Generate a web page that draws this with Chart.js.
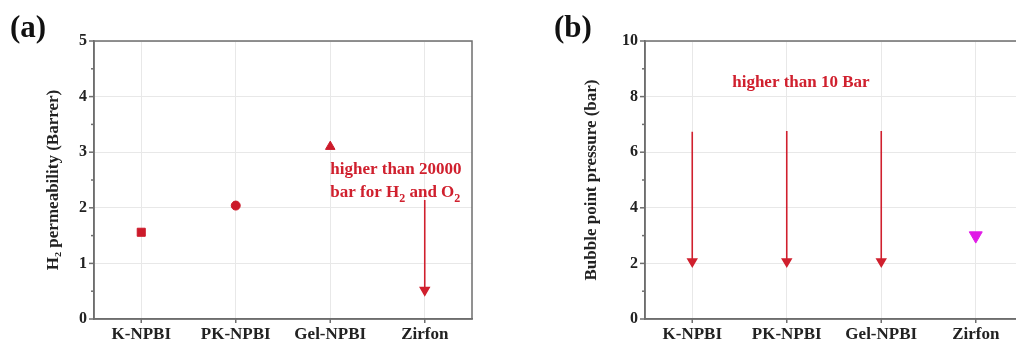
<!DOCTYPE html>
<html>
<head>
<meta charset="utf-8">
<script src="https://cdn.jsdelivr.net/npm/chart.js@4.4.1/dist/chart.umd.min.js"></script>
<style>
  html, body { margin: 0; padding: 0; background: #fff; overflow: hidden; }
  #wrap { position: relative; width: 1016px; height: 345px; overflow: hidden; }
  .panel { position: absolute; top: 0; height: 345px; }
  #pa { left: 0; width: 500px; }
  #pb { left: 520px; width: 520px; }
</style>
</head>
<body>
<div id="wrap">
  <div class="panel" id="pa"><canvas id="chartA"></canvas></div>
  <div class="panel" id="pb"><canvas id="chartB"></canvas></div>
</div>
<script>
// Data
const categories = ['K-NPBI', 'PK-NPBI', 'Gel-NPBI', 'Zirfon'];
const h2Permeability = [1.56, 2.04, 3.10];          // K, PK, Gel
const h2MarkerStyles = ['rect', 'circle', 'triangle'];
const zirfonH2Arrow = [2.14, 0.52];                // start, head (Zirfon, off scale)
const bubbleArrowTop = [6.74, 6.76, 6.76];         // K, PK, Gel (> 10 bar)
const bubbleArrowHead = [2.07, 2.07, 2.07];
const zirfonBubble = 3.0;
const yTicksA = [0, 1, 2, 3, 4, 5];
const yTicksB = [0, 2, 4, 6, 8, 10];

const SERIF = '"Liberation Serif", "Times New Roman", serif';
const RED = '#d0202e';
const FRAME = '#6e6e6e';

// Frame box + outward tick marks (major and minor)
const framePlugin = {
    id: 'frame',
    afterDraw(chart, args, opts) {
        const { ctx, chartArea: a, scales } = chart;
        ctx.save();
        ctx.strokeStyle = FRAME;
        ctx.lineWidth = 1.5;
        ctx.strokeRect(a.left, a.top, a.right - a.left, a.bottom - a.top);

        const y = scales.y;
        for (let v = y.min; v <= y.max + 1e-9; v += opts.minorStep) {
            const py = y.getPixelForValue(v);
            const major = Math.abs(v / opts.majorStep - Math.round(v / opts.majorStep)) < 1e-6;
            ctx.beginPath();
            ctx.moveTo(a.left, py);
            ctx.lineTo(a.left - (major ? 5 : 3), py);
            ctx.stroke();
        }
        scales.x.ticks.forEach((t, i) => {
            const px = scales.x.getPixelForTick(i);
            ctx.beginPath();
            ctx.moveTo(px, a.bottom);
            ctx.lineTo(px, a.bottom + 4);
            ctx.stroke();
        });
        ctx.restore();
    }
};

// Text notes (with subscripts) and panel letter
const notesPlugin = {
    id: 'notes',
    afterDraw(chart, args, opts) {
        const { ctx, scales } = chart;
        ctx.save();
        ctx.font = 'bold 31px ' + SERIF;
        ctx.fillStyle = '#111';
        ctx.textBaseline = 'alphabetic';
        ctx.textAlign = 'left';
        ctx.fillText(opts.letter, opts.letterX, 37);

        (opts.notes || []).forEach(n => {
            const px = scales.x.getPixelForValue(n.x);
            const py = scales.y.getPixelForValue(n.y);
            const main = 'bold 17px ' + SERIF;
            const sub = 'bold 12px ' + SERIF;
            // measure total width
            let w = 0;
            n.parts.forEach(p => {
                ctx.font = p.sub ? sub : main;
                w += ctx.measureText(p.t).width;
            });
            let x = n.align === 'center' ? px - w / 2 : px;
            ctx.fillStyle = RED;
            ctx.textBaseline = 'middle';
            ctx.textAlign = 'left';
            n.parts.forEach(p => {
                ctx.font = p.sub ? sub : main;
                ctx.fillText(p.t, x, p.sub ? py + 6 : py);
                x += ctx.measureText(p.t).width;
            });
        });
        ctx.restore();
    }
};

function arrowDataset(cat, top, head) {
    return {
        type: 'line',
        data: [{ x: cat, y: top }, { x: cat, y: head }],
        borderColor: RED,
        backgroundColor: RED,
        borderWidth: 1.6,
        pointRadius: [0, 5],
        pointStyle: 'triangle',
        rotation: 180,
        showLine: true
    };
}

function baseOptions(yMax, yStep, yTitle, yWidth, titlePad, padRight) {
    return {
        responsive: true,
        maintainAspectRatio: false,
        animation: false,
        layout: { padding: { left: 0, top: 41, right: padRight, bottom: 0 } },
        plugins: { legend: { display: false }, tooltip: { enabled: false } },
        scales: {
            x: {
                type: 'category',
                labels: categories,
                offset: true,
                grid: { offset: false, color: '#e8e8e8', drawTicks: false },
                border: { color: FRAME, width: 1.5 },
                ticks: { color: '#222', padding: 5, font: { family: SERIF, size: 17, weight: 'bold' } },
                afterFit: s => { s.height = 26; }
            },
            y: {
                min: 0,
                max: yMax,
                ticks: {
                    stepSize: yStep,
                    color: '#222',
                    padding: 7,
                    font: { family: SERIF, size: 16, weight: 'bold' }
                },
                grid: { color: '#e8e8e8', drawTicks: false },
                border: { color: FRAME, width: 1.5 },
                title: {
                    display: true,
                    text: yTitle,
                    color: '#222',
                    padding: { top: titlePad, bottom: 0 },
                    font: { family: SERIF, size: 17, weight: 'bold' }
                },
                afterFit: s => { s.width = yWidth; }
            }
        }
    };
}

// Panel (a)
const optsA = baseOptions(5, 1, 'H\u2082 permeability (Barrer)', 94, 43, 28);
optsA.plugins.frame = { minorStep: 0.5, majorStep: 1 };
optsA.plugins.notes = {
    letter: '(a)', letterX: 10,
    notes: [
        { x: 2, y: 2.68, align: 'left', parts: [{ t: 'higher than 20000' }] },
        { x: 2, y: 2.27, align: 'left', parts: [{ t: 'bar for H' }, { t: '2', sub: true }, { t: ' and O' }, { t: '2', sub: true }] }
    ]
};

new Chart(document.getElementById('chartA'), {
    type: 'line',
    data: {
        datasets: [
            {
                data: h2Permeability.map((v, i) => ({ x: categories[i], y: v })),
                showLine: false,
                pointStyle: h2MarkerStyles,
                pointRadius: [5.7, 4.5, 5.5],
                backgroundColor: '#cc1a2a',
                borderColor: '#cc1a2a',
                borderWidth: 1
            },
            arrowDataset('Zirfon', zirfonH2Arrow[0], zirfonH2Arrow[1])
        ]
    },
    options: optsA,
    plugins: [framePlugin, notesPlugin]
});

// Panel (b)
const optsB = baseOptions(10, 2, 'Bubble point pressure (bar)', 125, 61, 17);
optsB.plugins.frame = { minorStep: 1, majorStep: 2 };
optsB.plugins.notes = {
    letter: '(b)', letterX: 34,
    notes: [
        { x: 1.15, y: 8.5, align: 'center', parts: [{ t: 'higher than 10 Bar' }] }
    ]
};

const datasetsB = categories.slice(0, 3).map((c, i) => arrowDataset(c, bubbleArrowTop[i], bubbleArrowHead[i]));
datasetsB.push({
    data: [{ x: 'Zirfon', y: zirfonBubble }],
    showLine: false,
    pointStyle: 'triangle',
    rotation: 180,
    pointRadius: 7.5,
    backgroundColor: '#e01ae6',
    borderColor: '#e01ae6'
});

new Chart(document.getElementById('chartB'), {
    type: 'line',
    data: { datasets: datasetsB },
    options: optsB,
    plugins: [framePlugin, notesPlugin]
});
</script>
</body>
</html>
